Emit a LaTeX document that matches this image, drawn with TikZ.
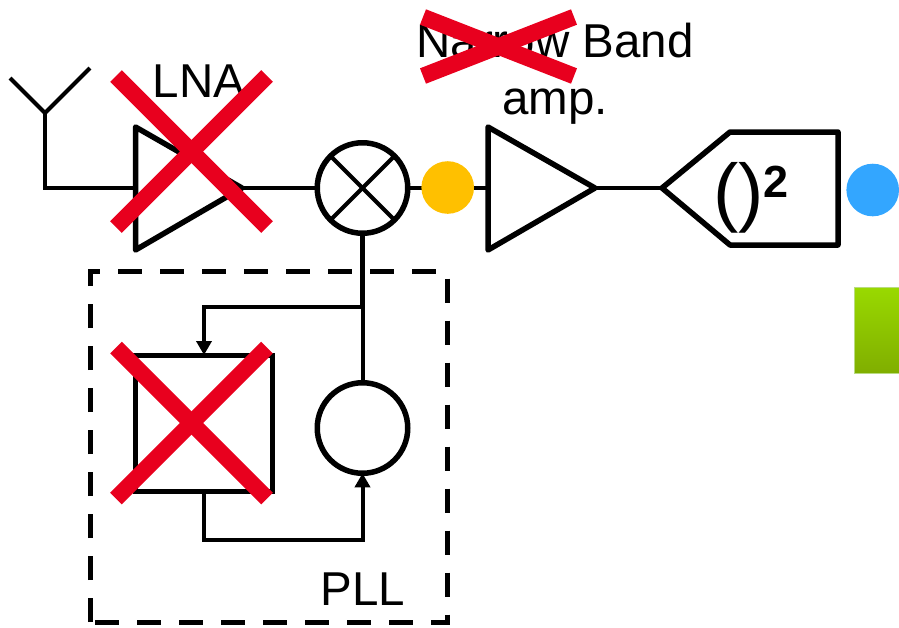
\documentclass[tikz,border=0pt]{standalone}
\usepackage{fontspec}
\setmainfont{Liberation Sans}
\usetikzlibrary{arrows.meta}
\definecolor{crossred}{HTML}{E8001E}
\definecolor{dotorange}{HTML}{FFC000}
\definecolor{dotblue}{HTML}{33A6FF}
\definecolor{bartop}{HTML}{99D900}
\definecolor{barbot}{HTML}{80AE00}
\definecolor{baredge}{HTML}{B9DB80}

\begin{document}
\begin{tikzpicture}[x=1pt,y=-1pt,inner sep=0pt,outer sep=0pt,
                    wire/.style={line width=4pt},
                    heavy wire/.style={line width=5pt},
                    block/.style={line width=5.5pt,line join=round},
                    round node/.style={circle,draw,line width=5.5pt,minimum size=90.5pt},
                    dot node/.style={circle,minimum size=52.6pt},
                    cross box/.style={minimum width=151pt},
                    red cross/.style={line width=16.5pt,draw=crossred},
                    big arrow/.style={-{Triangle[length=14pt,width=15pt]}},
                    label node/.style={font=\fontsize{47.5}{57}\selectfont,align=center}]
    \useasboundingbox (0,0) rectangle (899,627);

    % front end
    \coordinate (antl) at (10,78);
    \coordinate (antr) at (90,68);
    \coordinate (ant) at (45,113);
    \coordinate (lnaa) at (135.5,127);
    \coordinate (lnab) at (135.5,250);
    \coordinate (lnac) at (242,188);
    \coordinate (lnain) at (135.5,188);
    \coordinate (ampa) at (488,127);
    \coordinate (ampb) at (488,250);
    \coordinate (ampc) at (595,188);
    \coordinate (ampin) at (488,188);
    \coordinate (sqa) at (662,188);
    \coordinate (sqb) at (730,132);
    \coordinate (sqc) at (838,132);
    \coordinate (sqd) at (838,245);
    \coordinate (sqe) at (730,245);

    \node[round node] (mix) at (362.5,188) {};
    \node[round node] (vco) [below of=mix,node distance=240pt] {};
    \node[draw,line width=5pt,minimum width=137pt,minimum height=136pt] (div) at (204,423) {};
    \node[minimum width=356.5pt,minimum height=350.5pt] (pll) at (268.75,446.75) {};
    \coordinate (tee) at (362.5,307);
    \coordinate (teel) at (204,307);
    \coordinate (loop) at (204,539.5);

    \path[wire]
      (antl) edge (ant)
      (antr) edge (ant)
      (mix.north east) edge (mix.south west)
      (mix.north west) edge (mix.south east)
      (lnac) edge (mix)
      (mix) edge (ampin)
      (ampc) edge (sqa)
      (tee) edge (vco);
    \draw[wire] (ant) |- (lnain);
    \path[heavy wire] (mix) edge (tee);
    \draw[wire,big arrow] (tee) -- (teel) -- (div.north);
    \draw[wire,big arrow] (div.south) |- (loop -| vco) -- (vco.south);

    \draw[block] (lnaa) -- (lnab) -- (lnac) -- cycle;
    \draw[block] (ampa) -- (ampb) -- (ampc) -- cycle;
    \draw[block] (sqa) -- (sqb) -- (sqc) -- (sqd) -- (sqe) -- cycle;
    \draw[line width=5pt,dash pattern=on 24pt off 18pt]
      (pll.south west) -- (pll.north west) -- (pll.north east) -- (pll.south east) -- cycle;

    \node[dot node,fill=dotorange] (dota) at (447.7,187.5) {};
    \node[dot node,fill=dotblue] (dotb) at (872.7,190) {};
    \node[draw=baredge,line width=1pt,top color=bartop,bottom color=barbot,
          minimum width=52pt,minimum height=86pt] (bar) at (880,330.5) {};

    \node[label node,anchor=base] (lna) at (199,97) {LNA};
    \node[label node] (amp) at (555,74) {Narrow Band\\amp.};
    \node[label node,anchor=base] (pllname) at (363,605) {PLL};
    \node[anchor=base] (sq) at (751,217)
      {\fontsize{76}{76}\selectfont()\raisebox{20pt}{\fontsize{45}{45}\selectfont\bfseries 2}};

    % crossed out parts
    \node[cross box,minimum height=151pt] (xlna) at (191.5,151.5) {};
    \node[cross box,minimum height=151pt] (xdiv) at (191.5,423) {};
    \node[cross box,minimum height=59pt] (xamp) at (498.5,46.5) {};
    \path[red cross]
      (xlna.north west) edge (xlna.south east)
      (xlna.north east) edge (xlna.south west)
      (xdiv.north west) edge (xdiv.south east)
      (xdiv.north east) edge (xdiv.south west)
      (xamp.north west) edge (xamp.south east)
      (xamp.north east) edge (xamp.south west);
\end{tikzpicture}
\end{document}
